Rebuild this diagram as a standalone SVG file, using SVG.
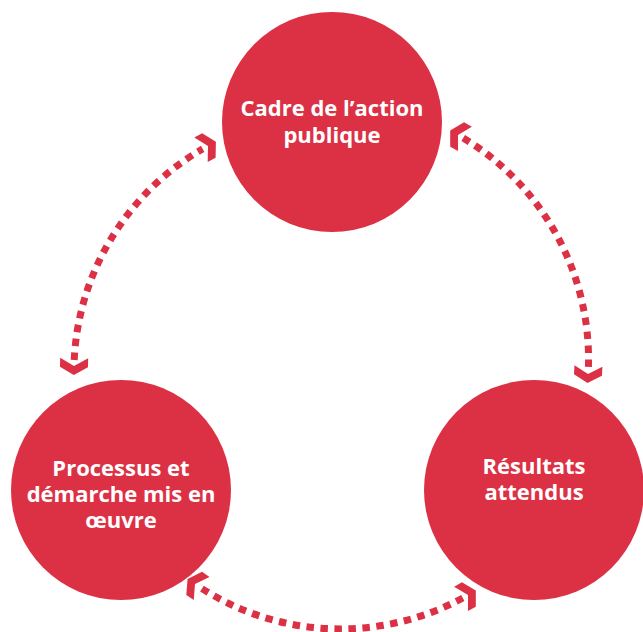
<svg xmlns="http://www.w3.org/2000/svg" xmlns:xlink="http://www.w3.org/1999/xlink" width="643" height="632" viewBox="0 0 643 632">
  <style>
    .node { fill: #dc3144; }
    .label { fill: #ffffff; font-family: "Open Sans", "Liberation Sans", sans-serif; font-weight: 700; font-size: 22px; text-anchor: middle; }
    .dash { fill: none; stroke: #dc3144; stroke-width: 7; stroke-dasharray: 7.5 6.5; stroke-linecap: butt; }
    .head { fill: #dc3144; }
  </style>
  <defs>
    <path id="chev" d="M -8 -14 L 0 0 L -8 14 L 1 14 L 9 0 L 1 -14 Z"/>
  </defs>
  <rect width="643" height="632" fill="#ffffff"/>
  <g id="connectors">
    <g id="arc-top-left">
      <path class="dash" d="M 74.2 360 A 258 258 0 0 1 202.7 148.9"/>
      <use class="head" xlink:href="#chev" transform="translate(74 366) rotate(91.4)"/>
      <use class="head" xlink:href="#chev" transform="translate(208 146) rotate(-28.7)"/>
    </g>
    <g id="arc-top-right">
      <path class="dash" d="M 463.2 138 A 258 258 0 0 1 588.4 368"/>
      <use class="head" xlink:href="#chev" transform="translate(458 135) rotate(209.6)"/>
      <use class="head" xlink:href="#chev" transform="translate(588 374) rotate(93.3)"/>
    </g>
    <g id="arc-bottom">
      <path class="dash" d="M 462.8 598 A 258 258 0 0 1 200 587.4"/>
      <use class="head" xlink:href="#chev" transform="translate(468 595) rotate(-29.7)"/>
      <use class="head" xlink:href="#chev" transform="translate(195 584) rotate(214.3)"/>
    </g>
  </g>
  <g id="node-cadre">
    <circle class="node" cx="332" cy="122" r="110"/>
    <text class="label" x="332" y="116">Cadre de l’action</text>
    <text class="label" x="332" y="143">publique</text>
  </g>
  <g id="node-processus">
    <circle class="node" cx="121" cy="490" r="110"/>
    <text class="label" x="121" y="476">Processus et</text>
    <text class="label" x="121" y="502">démarche mis en</text>
    <text class="label" x="121" y="528">œuvre</text>
  </g>
  <g id="node-resultats">
    <circle class="node" cx="534" cy="490" r="110"/>
    <text class="label" x="534" y="474">Résultats</text>
    <text class="label" x="534" y="500">attendus</text>
  </g>
</svg>
